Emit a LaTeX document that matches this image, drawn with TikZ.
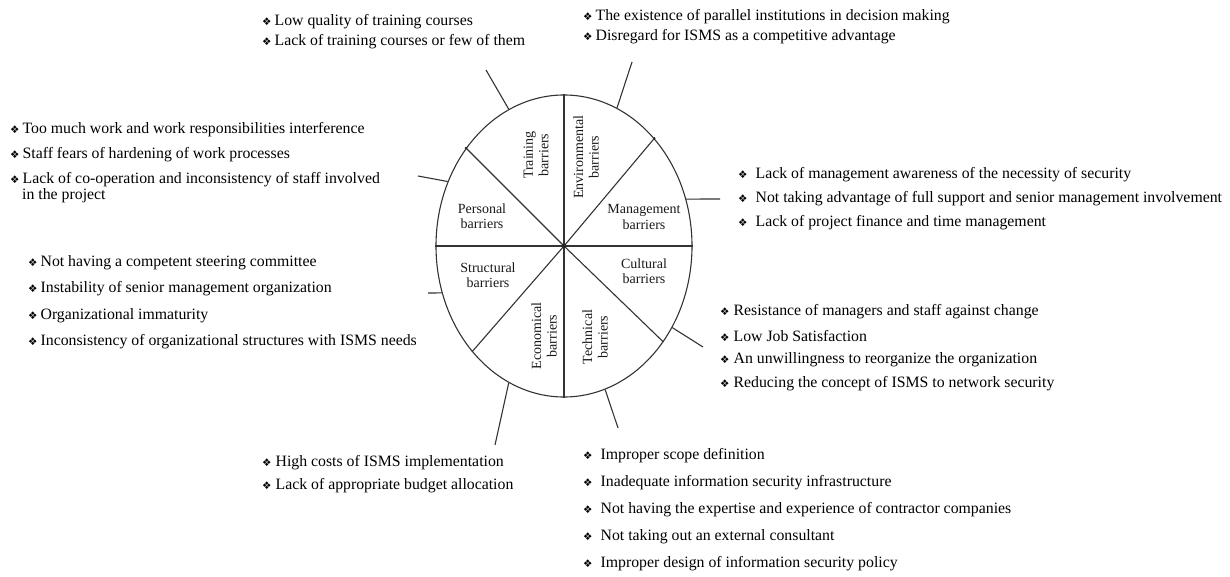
\documentclass[tikz,border=0pt]{standalone}
\usepackage{fontspec}
\setmainfont{Liberation Serif}
\newfontfamily\dvfont{DejaVu Sans}
\usetikzlibrary{shapes.geometric}
\newcommand{\bul}{{\dvfont\fontsize{10.5}{10.5}\selectfont\char"2756}}
\begin{document}
\begin{tikzpicture}[x=1pt,y=-1pt,
  item/.style={anchor=west, inner sep=0pt, font=\fontsize{15.8}{18}\selectfont, text=black},
  seclabel/.style={align=center, inner sep=0pt, font=\fontsize{14}{15.5}\selectfont, text=black!90},
  line/.style={line width=1.1pt, draw=black!80}]
\useasboundingbox (0,0) rectangle (1230,577);
\node[ellipse, line, minimum width=256pt, minimum height=302pt, inner sep=0pt] (E) at (564,246) {};
\coordinate (C) at (564,246);
% spokes
\draw[line] (E.north) -- (C);
\draw[line] (C) -- (E.south);
\draw[line] (E.west) -- (C);
\draw[line] (C) -- (E.east);
\draw[line] (C) -- (E.135);
\draw[line] (C) -- (E.50);
\draw[line] (C) -- (E.-131);
\draw[line] (C) -- (E.-44);
\fill[black!85] (C) circle (2pt);
\fill[black!85] (E.135) circle (1.3pt);
\fill[black!85] (E.50) circle (1.3pt);
% tick ends
\coordinate (kTr) at (486,70);
\coordinate (kEn) at (632,62);
\coordinate (kPe) at (418,176);
\coordinate (kMa) at (720,199);
\coordinate (kSt) at (428,293);
\coordinate (kCu) at (703,347);
\coordinate (kEc) at (495,445);
\coordinate (kTe) at (618,428);
\draw[line] (E.112) -- (kTr);
\draw[line] (E.69) -- (kEn);
\draw[line] (E.151) -- (kPe);
\draw[line] (E.21) -- (kMa);
\draw[line] (E.201) -- (kSt);
\draw[line] (E.-37) -- (kCu);
\draw[line] (E.-112) -- (kEc);
\draw[line] (E.-74) -- (kTe);
% sector labels
\node[seclabel, rotate=90] (sTr) at (536,155) {Training\\barriers};
\node[seclabel, rotate=90] (sEn) at (586,157) {Environmental\\barriers};
\node[seclabel] (sPe) at (482,216) {Personal\\barriers};
\node[seclabel] (sMa) at (644,217) {Management\\barriers};
\node[seclabel] (sSt) at (488,275) {Structural\\barriers};
\node[seclabel] (sCu) at (644,271) {Cultural\\barriers};
\node[seclabel, rotate=90] (sEc) at (544,336) {Economical\\barriers};
\node[seclabel, rotate=90] (sTe) at (595,337) {Technical\\barriers};
% training
\node[item] (tr1) at (262,22) {\bul\hspace{3pt}Low quality of training courses};
\node[item] (tr2) at (262,42) {\bul\hspace{3pt}Lack of training courses or few of them};
% environmental
\node[item] (en1) at (583,17) {\bul\hspace{3pt}The existence of parallel institutions in decision making};
\node[item] (en2) at (583,37) {\bul\hspace{3pt}Disregard for ISMS as a competitive advantage};
% personal
\node[item] (pe1) at (10,130) {\bul\hspace{3pt}Too much work and work responsibilities interference};
\node[item] (pe2) at (10,155) {\bul\hspace{3pt}Staff fears of hardening of work processes};
\node[item] (pe3) at (10,180) {\bul\hspace{3pt}Lack of co-operation and inconsistency of staff involved};
\node[item] (pe4) at (22,196) {in the project};
% management
\node[item] (ma1) at (738,175) {\bul\hspace{8pt}Lack of management awareness of the necessity of security};
\node[item] (ma2) at (738,199) {\bul\hspace{8pt}Not taking advantage of full support and senior management involvement};
\node[item] (ma3) at (738,223) {\bul\hspace{8pt}Lack of project finance and time management};
% structural
\node[item] (st1) at (28,263) {\bul\hspace{3pt}Not having a competent steering committee};
\node[item] (st2) at (28,289) {\bul\hspace{3pt}Instability of senior management organization};
\node[item] (st3) at (28,316) {\bul\hspace{3pt}Organizational immaturity};
\node[item] (st4) at (28,342) {\bul\hspace{3pt}Inconsistency of organizational structures with ISMS needs};
% cultural
\node[item] (cu1) at (720,312) {\bul\hspace{4pt}Resistance of managers and staff against change};
\node[item] (cu2) at (720,336) {\bul\hspace{4pt}Low Job Satisfaction};
\node[item] (cu3) at (720,360) {\bul\hspace{4pt}An unwillingness to reorganize the organization};
\node[item] (cu4) at (720,384) {\bul\hspace{4pt}Reducing the concept of ISMS to network security};
% economical
\node[item] (ec1) at (262,463) {\bul\hspace{4pt}High costs of ISMS implementation};
\node[item] (ec2) at (262,486) {\bul\hspace{4pt}Lack of appropriate budget allocation};
% technical
\node[item] (te1) at (583,456) {\bul\hspace{8pt}Improper scope definition};
\node[item] (te2) at (583,483) {\bul\hspace{8pt}Inadequate information security infrastructure};
\node[item] (te3) at (583,510) {\bul\hspace{8pt}Not having the expertise and experience of contractor companies};
\node[item] (te4) at (583,537) {\bul\hspace{8pt}Not taking out an external consultant};
\node[item] (te5) at (583,564) {\bul\hspace{8pt}Improper design of information security policy};
\end{tikzpicture}
\end{document}
